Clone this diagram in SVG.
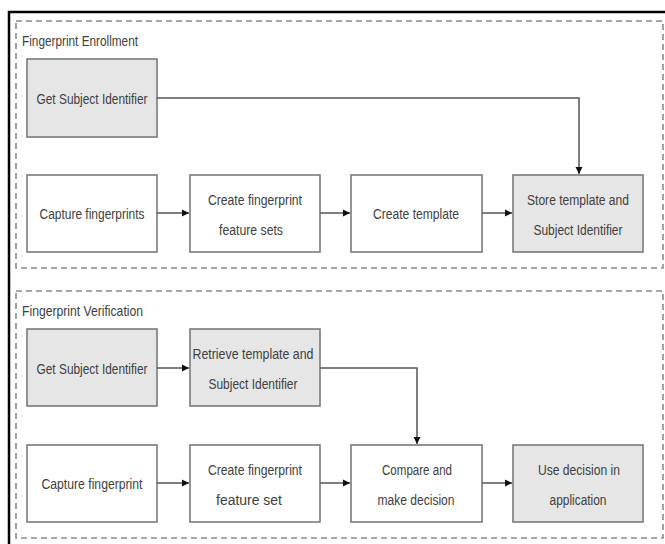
<svg xmlns="http://www.w3.org/2000/svg" width="665" height="544" viewBox="0 0 665 544">
<style>
.grp{fill:none;stroke:#8a8a8a;stroke-width:1.6;stroke-dasharray:6,4}
.box{fill:#ffffff;stroke:#7a7a7a;stroke-width:1.6}
.sh{fill:#e6e6e6}
.t{font-family:"Liberation Sans",Arial,sans-serif;font-size:15.5px;fill:#404040;text-anchor:middle}
.title{font-family:"Liberation Sans",Arial,sans-serif;font-size:15px;fill:#404040}
.c{fill:none;stroke:#555;stroke-width:1.5}
</style>
<defs>
<marker id="ah" markerWidth="8" markerHeight="8" refX="7" refY="4" orient="auto" markerUnits="userSpaceOnUse">
<path d="M0,0.5 L7,4 L0,7.5 Z" fill="#111"/>
</marker>
</defs>
<rect width="665" height="544" fill="#ffffff"/>
<rect x="9" y="12" width="700" height="600" fill="none" stroke="#000" stroke-width="2.5"/>

<g id="enrollment">
<rect class="grp" x="16" y="21" width="647" height="247"/>
<text class="title" x="22" y="46" textLength="116" lengthAdjust="spacingAndGlyphs">Fingerprint Enrollment</text>
</g>
<g id="verification">
<rect class="grp" x="16" y="291" width="647" height="247"/>
<text class="title" x="22" y="316" textLength="121" lengthAdjust="spacingAndGlyphs">Fingerprint Verification</text>
</g>

<g id="e_get">
<rect class="box sh" x="27" y="59" width="130" height="78"/>
<text class="t" x="92" y="104" textLength="111" lengthAdjust="spacingAndGlyphs">Get Subject Identifier</text>
</g>
<g id="e_capture">
<rect class="box" x="27" y="175" width="130" height="77"/>
<text class="t" x="92" y="219" textLength="105" lengthAdjust="spacingAndGlyphs">Capture fingerprints</text>
</g>
<g id="e_features">
<rect class="box" x="190" y="175" width="130" height="77"/>
<text class="t" x="255" y="205" textLength="94" lengthAdjust="spacingAndGlyphs">Create fingerprint</text>
<text class="t" x="251" y="235" textLength="64" lengthAdjust="spacingAndGlyphs">feature sets</text>
</g>
<g id="e_template">
<rect class="box" x="351" y="175" width="131" height="77"/>
<text class="t" x="416" y="219" textLength="86" lengthAdjust="spacingAndGlyphs">Create template</text>
</g>
<g id="e_store">
<rect class="box sh" x="513" y="175" width="130" height="77"/>
<text class="t" x="578" y="205" textLength="102" lengthAdjust="spacingAndGlyphs">Store template and</text>
<text class="t" x="578" y="235" textLength="89" lengthAdjust="spacingAndGlyphs">Subject Identifier</text>
</g>

<g id="v_get">
<rect class="box sh" x="27" y="329" width="130" height="77"/>
<text class="t" x="92" y="374" textLength="111" lengthAdjust="spacingAndGlyphs">Get Subject Identifier</text>
</g>
<g id="v_retrieve">
<rect class="box sh" x="190" y="329" width="130" height="77"/>
<text class="t" x="253" y="359" textLength="121" lengthAdjust="spacingAndGlyphs">Retrieve template and</text>
<text class="t" x="253" y="389" textLength="89" lengthAdjust="spacingAndGlyphs">Subject Identifier</text>
</g>
<g id="v_capture">
<rect class="box" x="27" y="445" width="130" height="77"/>
<text class="t" x="92" y="489" textLength="101" lengthAdjust="spacingAndGlyphs">Capture fingerprint</text>
</g>
<g id="v_feature">
<rect class="box" x="190" y="445" width="130" height="77"/>
<text class="t" x="255" y="475" textLength="94" lengthAdjust="spacingAndGlyphs">Create fingerprint</text>
<text class="t" x="249" y="505" textLength="66" lengthAdjust="spacingAndGlyphs">feature set</text>
</g>
<g id="v_compare">
<rect class="box" x="351" y="445" width="131" height="77"/>
<text class="t" x="417" y="475" textLength="70" lengthAdjust="spacingAndGlyphs">Compare and</text>
<text class="t" x="416" y="505" textLength="77" lengthAdjust="spacingAndGlyphs">make decision</text>
</g>
<g id="v_use">
<rect class="box sh" x="513" y="445" width="130" height="77"/>
<text class="t" x="579" y="475" textLength="82" lengthAdjust="spacingAndGlyphs">Use decision in</text>
<text class="t" x="578" y="505" textLength="57" lengthAdjust="spacingAndGlyphs">application</text>
</g>

<g id="connectors">
<path class="c" d="M157,98 H579 V174" marker-end="url(#ah)"/>
<path class="c" d="M157,213 H189" marker-end="url(#ah)"/>
<path class="c" d="M320,213 H350" marker-end="url(#ah)"/>
<path class="c" d="M482,213 H512" marker-end="url(#ah)"/>
<path class="c" d="M157,368 H189" marker-end="url(#ah)"/>
<path class="c" d="M320,368 H417 V444" marker-end="url(#ah)"/>
<path class="c" d="M157,483 H189" marker-end="url(#ah)"/>
<path class="c" d="M320,483 H350" marker-end="url(#ah)"/>
<path class="c" d="M482,483 H512" marker-end="url(#ah)"/>
</g>
</svg>
